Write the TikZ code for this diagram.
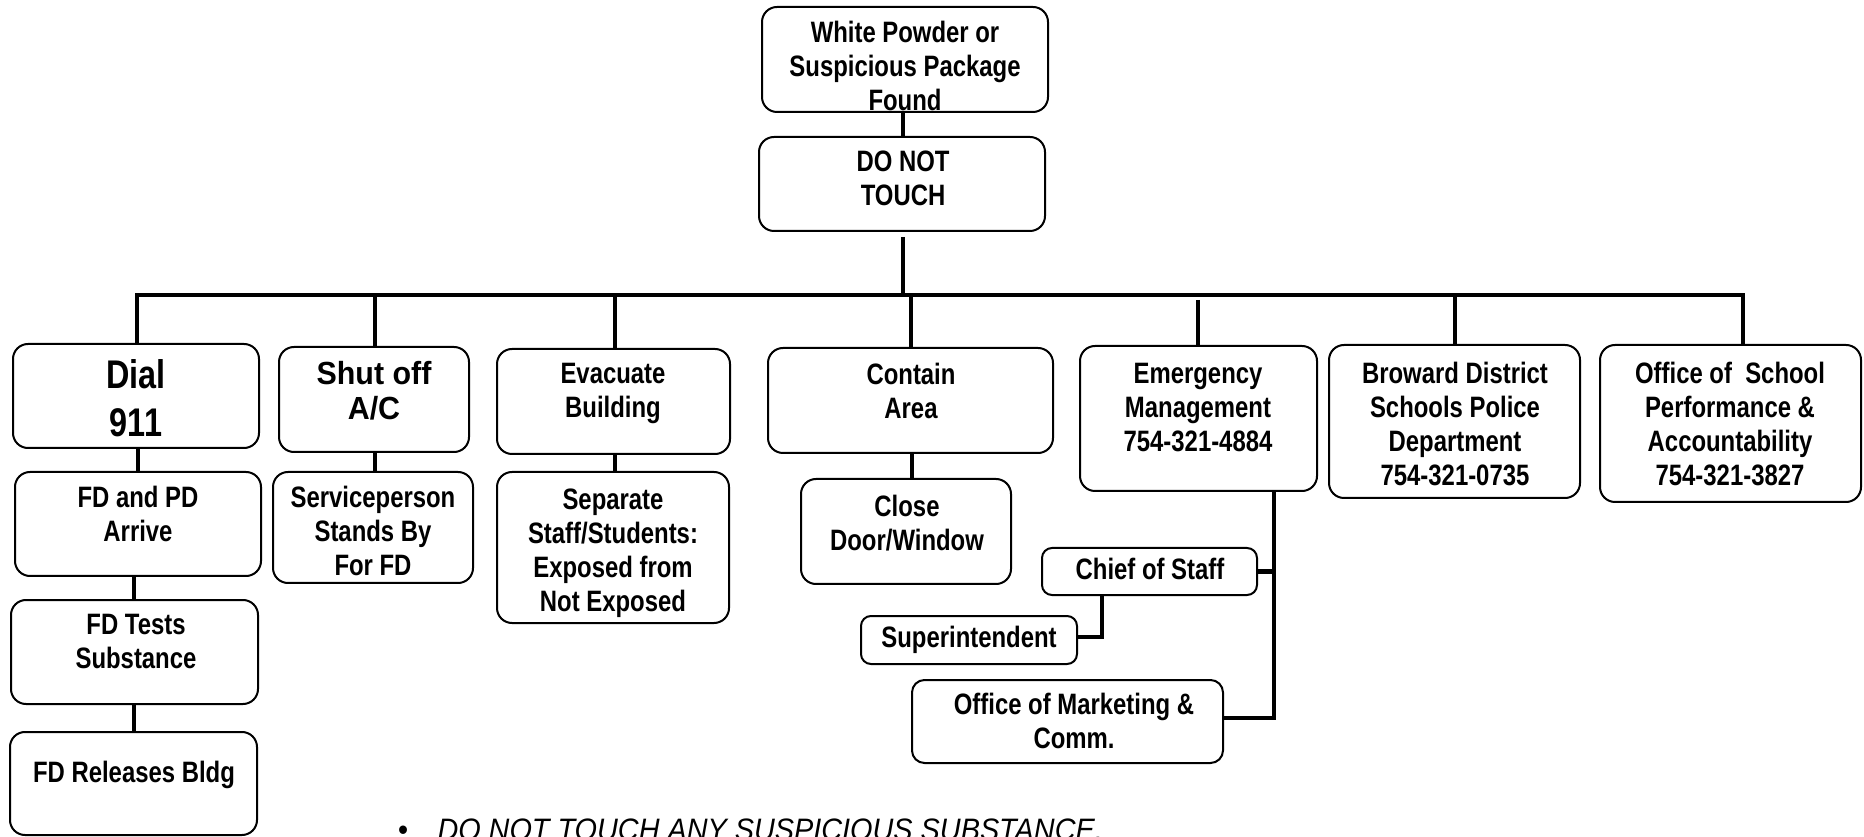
\documentclass[tikz,border=0pt]{standalone}
\usepackage{fontspec}
\setmainfont{Liberation Sans}
\newfontfamily\chartfont[FakeStretch=0.81]{Liberation Sans}
\newfontfamily\acfont[FakeStretch=0.95]{Liberation Sans}
\newfontfamily\notefont[FakeStretch=0.93]{Liberation Sans}
\usetikzlibrary{fit}
\tikzset{
  box/.style={draw, line width=0.8pt, rounded corners=6pt, inner sep=0pt},
  smallbox/.style={box, rounded corners=4pt},
  lbl/.style={align=center, inner sep=0pt, anchor=north,
    font=\chartfont\bfseries\fontsize{11.8}{13.6}\selectfont},
  biglbl/.style={lbl, font=\chartfont\bfseries\fontsize{16}{19.2}\selectfont},
  aclbl/.style={lbl, font=\acfont\bfseries\fontsize{12.8}{14}\selectfont},
  conn/.style={line width=1.8pt},
  notetext/.style={inner sep=0pt, anchor=base west,
    font=\notefont\itshape\fontsize{12.4}{14}\selectfont},
}
\begin{document}
\begin{tikzpicture}[x=0.4pt, y=-0.4pt]
\useasboundingbox (0,0) rectangle (1864,837);
\clip (0,0) rectangle (1864,837);

% top of the chart
\node[box, fit={(762,7) (1048,112)}] (wp) {};
\node[lbl] (wp-t) at (905,21) {White Powder or\\Suspicious Package\\Found};
\node[box, fit={(759,137) (1045,231)}] (dnt) {};
\node[lbl] (dnt-t) at (903,150) {DO NOT\\TOUCH};

% first column
\node[box, fit={(13,344) (259,448)}] (dial) {};
\node[biglbl] (dial-t) at (136,359) {Dial\\911};
\node[box, fit={(15,472) (261,576)}] (fdpd) {};
\node[lbl] (fdpd-t) at (138,486) {FD and PD\\Arrive};
\node[box, fit={(11,600) (258,704)}] (fdt) {};
\node[lbl] (fdt-t) at (136,614) {FD Tests\\Substance};
\node[box, fit={(10,732) (257,835)}] (fdr) {};
\node[lbl] (fdr-t) at (134,761) {FD Releases Bldg};

% second column
\node[box, fit={(279,347) (469,452)}] (shut) {};
\node[aclbl] (shut-t) at (374,361) {Shut off\\A/C};
\node[box, fit={(273,472) (473,583)}] (svc) {};
\node[lbl] (svc-t) at (373,486) {Serviceperson\\Stands By\\For FD};

% third column
\node[box, fit={(497,349) (730,454)}] (evac) {};
\node[lbl] (evac-t) at (613,363) {Evacuate\\Building};
\node[box, fit={(497,472) (729,623)}] (sep) {};
\node[lbl] (sep-t) at (613,488) {Separate\\Staff/Students:\\Exposed from\\Not Exposed};

% fourth column
\node[box, fit={(768,348) (1053,453)}] (cont) {};
\node[lbl] (cont-t) at (911,363) {Contain\\Area};
\node[box, fit={(801,479) (1011,584)}] (close) {};
\node[lbl] (close-t) at (907,495) {Close\\Door/Window};

% contact boxes
\node[box, fit={(1080,346) (1317,491)}] (em) {};
\node[lbl] (em-t) at (1198,363) {Emergency\\Management\\754-321-4884};
\node[box, fit={(1329,345) (1580,498)}] (bro) {};
\node[lbl] (bro-t) at (1455,362) {Broward District\\Schools Police\\Department\\754-321-0735};
\node[box, fit={(1600,345) (1861,502)}] (off) {};
\node[lbl] (off-t) at (1730,362) {Office of\ \ School\\Performance \&\\Accountability\\754-321-3827};

% notification chain
\node[smallbox, fit={(1042,548) (1257,595)}] (chief) {};
\node[lbl] (chief-t) at (1150,558) {Chief of Staff};
\node[smallbox, fit={(861,616) (1077,664)}] (sup) {};
\node[lbl] (sup-t) at (969,626) {Superintendent};
\node[smallbox, rounded corners=5pt, fit={(912,680) (1223,763)}] (mkt) {};
\node[lbl] (mkt-t) at (1074,693) {Office of Marketing \&\\Comm.};

% connector positions
\coordinate (xtop) at (903,0);
\coordinate (gap) at (903,237);
\coordinate (bmain) at (903,295);
\coordinate (b1) at (137,295);
\coordinate (b2) at (375,295);
\coordinate (b3) at (615,295);
\coordinate (b4) at (911,295);
\coordinate (b5) at (1198,300);
\coordinate (b6) at (1455,295);
\coordinate (b7) at (1743,295);
\coordinate (xd) at (138,0);
\coordinate (xf) at (134,0);
\coordinate (xc) at (912,0);
\coordinate (ev) at (1274,718);
\coordinate (sv) at (1102,637);

% connectors
\draw[conn] (wp.south -| xtop) -- (dnt.north -| xtop);
\draw[conn] (gap) -- (bmain);
\draw[conn, line join=miter] (dial.north -| b1) -- (b1) -- (b7) -- (off.north -| b7);
\draw[conn] (b2) -- (shut.north -| b2);
\draw[conn] (b3) -- (evac.north -| b3);
\draw[conn] (b4) -- (cont.north -| b4);
\draw[conn] (b5) -- (em.north -| b5);
\draw[conn] (b6) -- (bro.north -| b6);

\draw[conn] (dial.south -| xd) -- (fdpd.north -| xd);
\draw[conn] (fdpd.south -| xf) -- (fdt.north -| xf);
\draw[conn] (fdt.south -| xf) -- (fdr.north -| xf);
\draw[conn] (shut.south -| b2) -- (svc.north -| b2);
\draw[conn] (evac.south -| b3) -- (sep.north -| b3);
\draw[conn] (cont.south -| xc) -- (close.north -| xc);

\draw[conn, line join=miter] (em.south -| ev) -- (ev) -- (mkt.east |- ev);
\draw[conn] (chief.east) -- (chief.east -| ev);
\draw[conn, line join=miter] (chief.south -| sv) -- (sv) -- (sup.east |- sv);

% note under the chart
\node[notetext, anchor=base] (bullet) at (403,840) {•};
\node[notetext] (note) at (437,840) {DO NOT TOUCH ANY SUSPICIOUS SUBSTANCE.};
\end{tikzpicture}
\end{document}
